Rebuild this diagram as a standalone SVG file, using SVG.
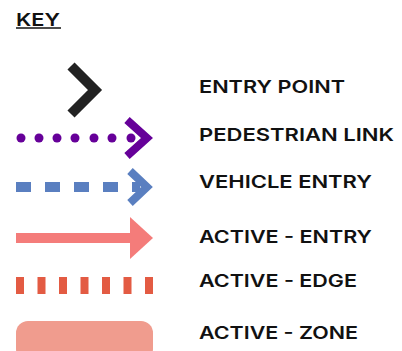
<svg xmlns="http://www.w3.org/2000/svg" width="402" height="351" viewBox="0 0 402 351">
<style>
.lbl{font-family:Inter,"DejaVu Sans","Liberation Sans",sans-serif;font-weight:600;font-size:17.5px;fill:#111}
</style>
<rect width="402" height="351" fill="#fff"/>
<g id="title">
<text class="lbl" x="16" y="26" textLength="44" lengthAdjust="spacingAndGlyphs">KEY</text>
<line x1="16" y1="28" x2="61" y2="28" stroke="#111" stroke-width="1.5"/>
</g>
<g id="entry-point">
<polyline points="71,66 95,90 71,114" fill="none" stroke="#222" stroke-width="10" stroke-linejoin="miter"/>
<text class="lbl" x="199" y="93" textLength="146" lengthAdjust="spacingAndGlyphs">ENTRY POINT</text>
</g>
<g id="pedestrian-link">
<g fill="#660099">
<circle cx="21" cy="138" r="4.5"/><circle cx="39" cy="138" r="4.5"/><circle cx="57" cy="138" r="4.5"/><circle cx="75" cy="138" r="4.5"/><circle cx="94" cy="138" r="4.5"/><circle cx="112" cy="138" r="4.5"/><circle cx="131" cy="138" r="4.5"/>
</g>
<polyline points="127,120 147,138 127,156" fill="none" stroke="#660099" stroke-width="8"/>
<text class="lbl" x="199" y="141" textLength="195" lengthAdjust="spacingAndGlyphs">PEDESTRIAN LINK</text>
</g>
<g id="vehicle-entry">
<g fill="#5a7fc0">
<rect x="16" y="182" width="15" height="10"/><rect x="45" y="182" width="15" height="10"/><rect x="74" y="182" width="15" height="10"/><rect x="103" y="182" width="15" height="10"/><rect x="132" y="182" width="8" height="10"/>
</g>
<polyline points="130,171 147,187 130,203" fill="none" stroke="#5a7fc0" stroke-width="8"/>
<text class="lbl" x="199" y="188" textLength="173" lengthAdjust="spacingAndGlyphs">VEHICLE ENTRY</text>
</g>
<g id="active-entry">
<rect x="16" y="233" width="116" height="10" fill="#f47c7a"/>
<polygon points="130,217 153,238 130,259" fill="#f47c7a"/>
<text class="lbl" x="199" y="243" textLength="173" lengthAdjust="spacingAndGlyphs">ACTIVE - ENTRY</text>
</g>
<g id="active-edge">
<line x1="16" y1="285.5" x2="153" y2="285.5" stroke="#e35b43" stroke-width="17" stroke-dasharray="8,13.5"/>
<text class="lbl" x="199" y="287" textLength="158" lengthAdjust="spacingAndGlyphs">ACTIVE - EDGE</text>
</g>
<g id="active-zone">
<rect x="16" y="321" width="137" height="40" rx="12" fill="#f09c8e"/>
<text class="lbl" x="199" y="339" textLength="159" lengthAdjust="spacingAndGlyphs">ACTIVE - ZONE</text>
</g>
</svg>
